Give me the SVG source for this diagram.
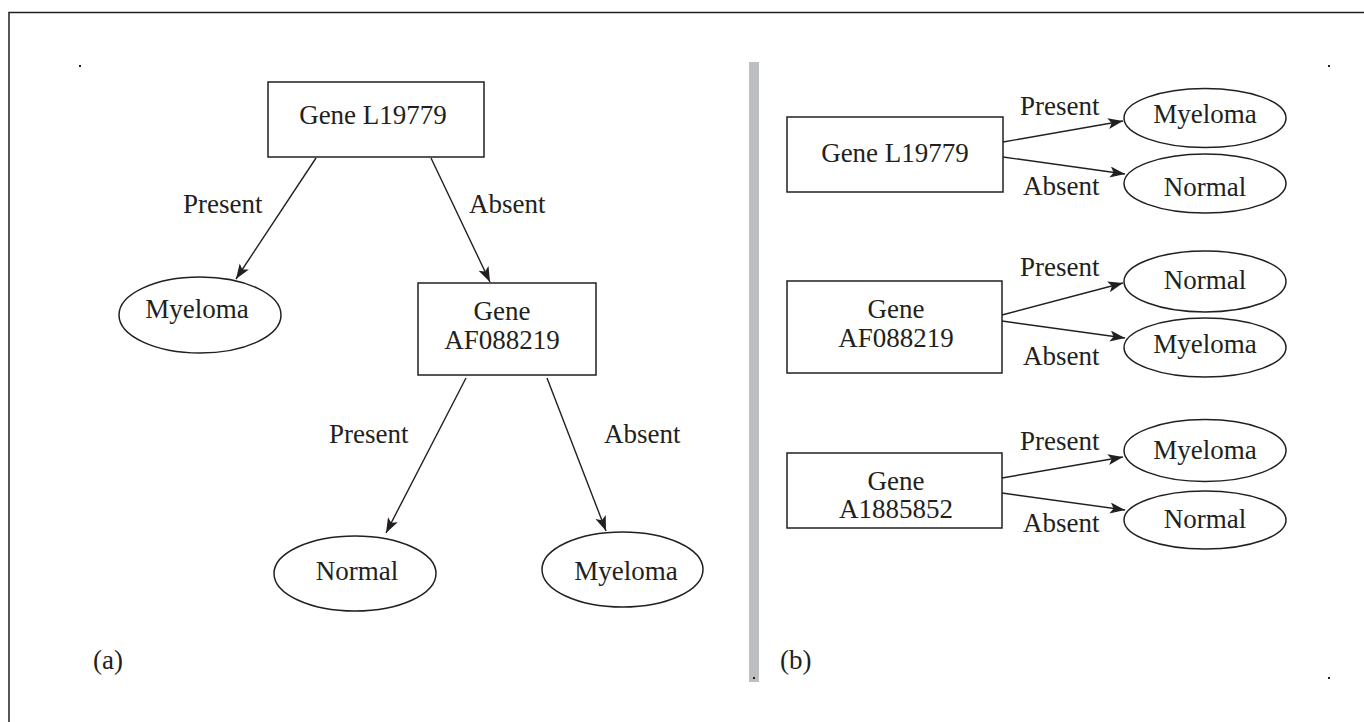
<svg xmlns="http://www.w3.org/2000/svg" width="1364" height="722" viewBox="0 0 1364 722">
<style>
  text { font-family: "Liberation Serif", "Times New Roman", serif; font-size: 27px; fill: #231f20; }
  .c { text-anchor: middle; }
  .box { fill: #fff; stroke: #231f20; stroke-width: 1.5; }
  .ell { fill: #fff; stroke: #231f20; stroke-width: 1.5; }
  .edge { stroke: #231f20; stroke-width: 1.4; fill: none; marker-end: url(#arr); }
</style>
<defs>
  <marker id="arr" markerUnits="userSpaceOnUse" markerWidth="18" markerHeight="14" refX="15" refY="5.5" orient="auto">
    <path d="M0,0 L15,5.5 L0,11 L3.5,5.5 z" fill="#231f20"/>
  </marker>
</defs>
<rect width="1364" height="722" fill="#fff"/>
<rect x="9" y="12.5" width="1400" height="760" fill="none" stroke="#231f20" stroke-width="1.5"/>
<rect x="749" y="62" width="10" height="620" fill="#bcbec0"/>
<g id="marks" fill="#231f20">
  <rect x="79" y="65" width="2" height="2"/>
  <rect x="1328" y="65" width="2" height="2"/>
  <rect x="753" y="677" width="2" height="2"/>
  <rect x="1328" y="677" width="2" height="2"/>
</g>
<text x="93" y="669">(a)</text>
<text x="780" y="669">(b)</text>

<g id="connectors">
  <line class="edge" x1="316" y1="158" x2="236" y2="279"/>
  <line class="edge" x1="431" y1="158" x2="490" y2="282"/>
  <line class="edge" x1="466" y1="378" x2="386" y2="533"/>
  <line class="edge" x1="547" y1="378" x2="606" y2="531"/>
  <line class="edge" x1="1003" y1="142" x2="1123" y2="121"/>
  <line class="edge" x1="1003" y1="157" x2="1125" y2="174"/>
  <line class="edge" x1="1002" y1="315" x2="1123" y2="283"/>
  <line class="edge" x1="1002" y1="321" x2="1125" y2="338"/>
  <line class="edge" x1="1002" y1="478" x2="1123" y2="457"/>
  <line class="edge" x1="1002" y1="493" x2="1125" y2="510"/>
  <text x="183" y="213">Present</text>
  <text x="469" y="213">Absent</text>
  <text x="329" y="443">Present</text>
  <text x="604" y="443">Absent</text>
  <text x="1020" y="115">Present</text>
  <text x="1023" y="195">Absent</text>
  <text x="1020" y="276">Present</text>
  <text x="1023" y="365">Absent</text>
  <text x="1020" y="450">Present</text>
  <text x="1023" y="532">Absent</text>
</g>

<g id="a-gene-l19779">
  <rect class="box" x="268" y="82" width="216" height="75"/>
  <text class="c" x="373" y="124">Gene L19779</text>
</g>
<g id="a-myeloma-1">
  <ellipse class="ell" cx="200" cy="315" rx="81" ry="38"/>
  <text class="c" x="197" y="318">Myeloma</text>
</g>
<g id="a-gene-af088219">
  <rect class="box" x="418" y="283" width="178" height="92"/>
  <text class="c" x="502" y="320">Gene</text>
  <text class="c" x="502" y="349">AF088219</text>
</g>
<g id="a-normal">
  <ellipse class="ell" cx="355" cy="573.5" rx="81" ry="37.5"/>
  <text class="c" x="357" y="580">Normal</text>
</g>
<g id="a-myeloma-2">
  <ellipse class="ell" cx="622.5" cy="569.5" rx="80.5" ry="37.5"/>
  <text class="c" x="626" y="580">Myeloma</text>
</g>

<g id="b-gene-l19779">
  <rect class="box" x="787" y="117" width="216" height="75"/>
  <text class="c" x="895" y="162">Gene L19779</text>
</g>
<g id="b-myeloma-1">
  <ellipse class="ell" cx="1205" cy="118" rx="81" ry="29.5"/>
  <text class="c" x="1205" y="123">Myeloma</text>
</g>
<g id="b-normal-1">
  <ellipse class="ell" cx="1205" cy="183.5" rx="81" ry="29.5"/>
  <text class="c" x="1205" y="196">Normal</text>
</g>
<g id="b-gene-af088219">
  <rect class="box" x="787" y="281" width="215" height="92"/>
  <text class="c" x="896" y="318">Gene</text>
  <text class="c" x="896" y="347">AF088219</text>
</g>
<g id="b-normal-2">
  <ellipse class="ell" cx="1205" cy="281.5" rx="81" ry="30.5"/>
  <text class="c" x="1205" y="289">Normal</text>
</g>
<g id="b-myeloma-2">
  <ellipse class="ell" cx="1205" cy="347.5" rx="81" ry="29.5"/>
  <text class="c" x="1205" y="353">Myeloma</text>
</g>
<g id="b-gene-a1885852">
  <rect class="box" x="787" y="453" width="215" height="75"/>
  <text class="c" x="896" y="490">Gene</text>
  <text class="c" x="896" y="518">A1885852</text>
</g>
<g id="b-myeloma-3">
  <ellipse class="ell" cx="1205" cy="450.5" rx="81" ry="31"/>
  <text class="c" x="1205" y="459">Myeloma</text>
</g>
<g id="b-normal-3">
  <ellipse class="ell" cx="1205" cy="520" rx="81" ry="29"/>
  <text class="c" x="1205" y="528">Normal</text>
</g>
</svg>
